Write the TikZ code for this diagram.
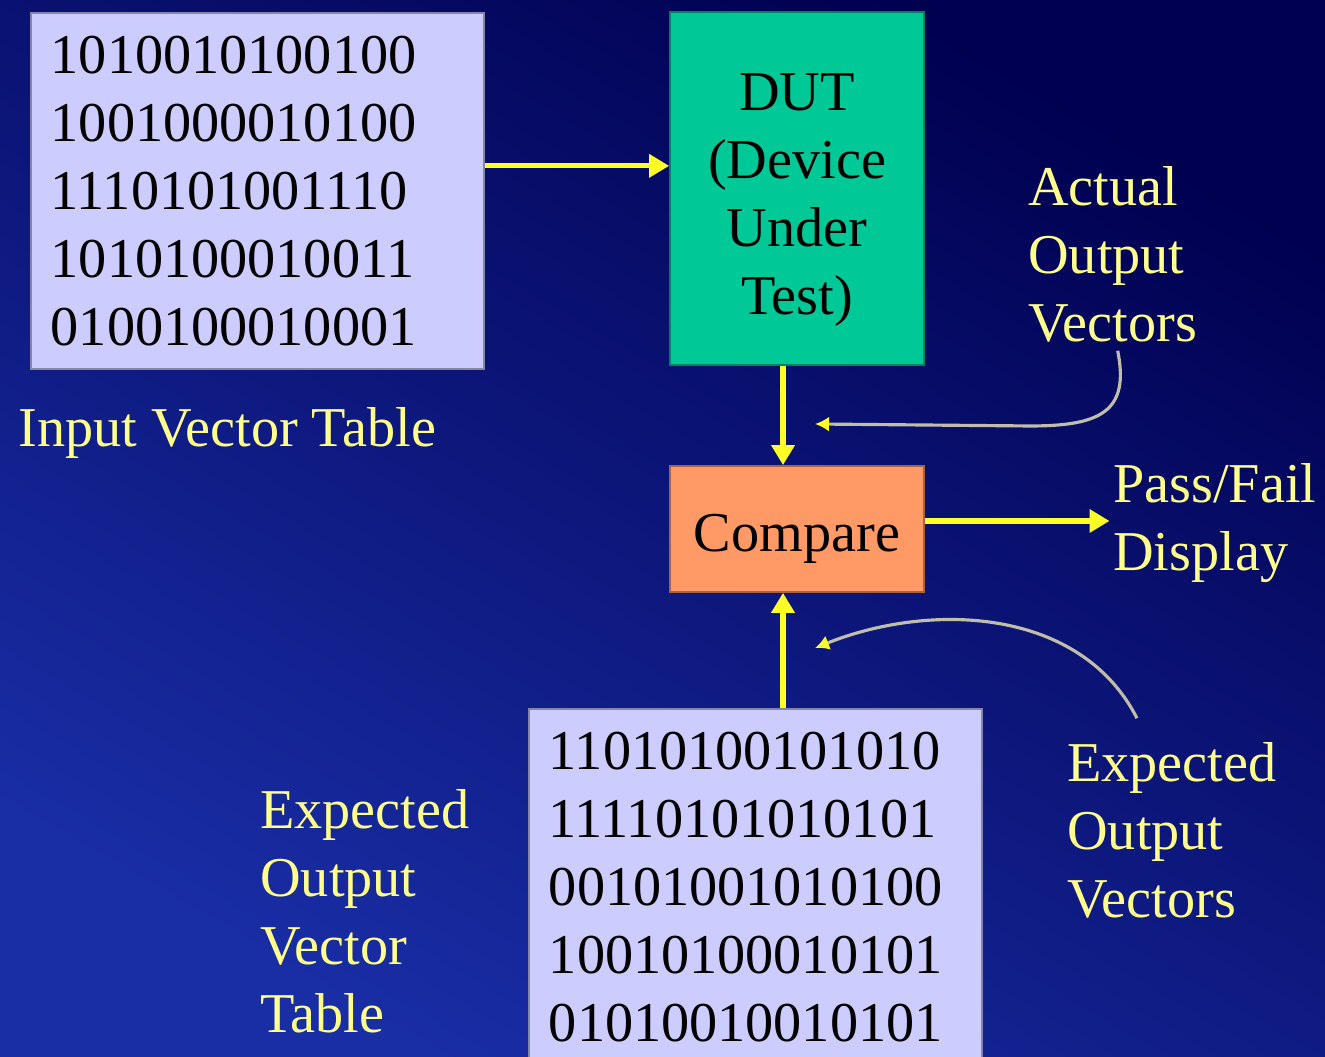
\documentclass[tikz,border=0pt]{standalone}
\usepackage{fontspec}
\setmainfont{Liberation Serif}
\usetikzlibrary{arrows.meta, positioning, calc}

\definecolor{bgdark}{RGB}{0,0,80}
\definecolor{bglight}{RGB}{25,45,165}
\definecolor{lavbox}{RGB}{204,204,255}
\definecolor{dutgreen}{RGB}{0,200,150}
\definecolor{cmporange}{RGB}{255,153,102}
\definecolor{lblyellow}{RGB}{255,255,140}
\definecolor{flowyellow}{RGB}{255,255,40}
\definecolor{callgray}{RGB}{190,190,170}

\newcommand{\slidefont}{\fontsize{32}{38.7}\selectfont}

\tikzset{
    box/.style={draw=#1!65!black, line width=1pt, fill=#1, text=black, font=\slidefont},
    vectab/.style={box=lavbox, align=left, text width=8.26cm, inner xsep=0.4cm, inner ysep=0.46cm, anchor=north west},
    unit/.style={box=#1, minimum width=5.08cm, align=center, inner sep=0pt},
    lbl/.style={text=lblyellow, font=\slidefont, align=left, inner sep=2pt, anchor=west},
    flow/.style={draw=flowyellow, line width=3pt, -{Triangle[length=0.4cm,width=0.45cm]}},
    callout/.style={draw=callgray, line width=1.8pt, -{Latex[length=0.28cm,width=0.3cm,color=flowyellow]}}
}

\begin{document}
\begin{tikzpicture}
    % background
    \shade[top color=bgdark, bottom color=bglight, shading angle=-30] (0,0) rectangle (26.5,21.14);
    \useasboundingbox (0,0) rectangle (26.5,21.14);

    % tables
    \node[vectab] (inp) at (0.6,20.9) {1010010100100\\1001000010100\\1110101001110\\1010100010011\\0100100010001};
    \node[vectab] (exp) at (10.56,6.98) {11010100101010\\11110101010101\\00101001010100\\10010100010101\\01010010010101};

    % DUT and compare
    \node[unit=dutgreen, minimum height=7.06cm] (dut) at (15.94,17.37) {\rule{0pt}{34pt}DUT\\(Device\\Under\\Test)};
    \node[unit=cmporange, minimum height=2.52cm] (cmp) at (15.94,10.56) {\rule{0pt}{32pt}Compare};

    % labels
    \node[lbl] (inlbl) at (0.29,12.48) {Input Vector Table};
    \node[lbl] (aov) at (20.49,16.06) {Actual\\Output\\Vectors};
    \node[lbl] (pass) at (22.19,10.68) {Pass/Fail\\Display};
    \node[lbl] (eovt) at (5.13,2.91) {Expected\\Output\\Vector\\Table};
    \node[lbl] (eov) at (21.27,4.54) {Expected\\Output\\Vectors};

    % flow arrows
    \coordinate (din) at ([xshift=-0.28cm]dut.south);
    \coordinate (cin) at ([xshift=-0.28cm]cmp.south);
    \draw[flow] ([yshift=0.5cm]inp.east) -- ([yshift=0.5cm]inp.east -| dut.west);
    \draw[flow] (din) -- (din |- cmp.north);
    \draw[flow] (exp.north -| cin) -- (cin);
    \draw[flow] ([yshift=0.16cm]cmp.east) -- ([yshift=0.16cm]cmp.east -| pass.west);

    % callouts
    \coordinate (atip) at (16.3,12.66);
    \coordinate (etip) at (16.3,8.18);
    \coordinate (efoot) at ([xshift=-0.7cm,yshift=0.4cm]eov.north);
    \draw[callout] ([xshift=0.1cm,yshift=-0.1cm]aov.south) .. controls (22.6,12.9) and (22.0,12.62) .. (20.6,12.62) -- (atip);
    \draw[callout] (efoot) .. controls (21.6,9.0) and (18.6,9.1) .. (etip);
\end{tikzpicture}
\end{document}
